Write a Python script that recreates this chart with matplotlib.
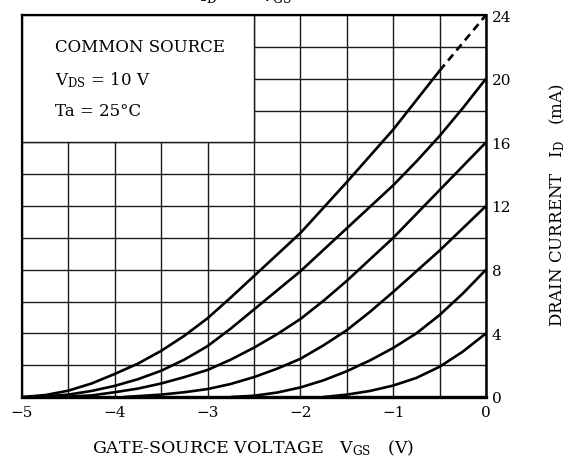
import numpy as np
import matplotlib
matplotlib.use('Agg')
import matplotlib.pyplot as plt
from matplotlib.patches import Rectangle

plt.rcParams['font.family'] = ['DejaVu Serif']

# curves: gate-source voltage (V) / drain current (mA)
vgs_a = [-5.0, -4.75, -4.5, -4.25, -4.0, -3.75, -3.5, -3.25, -3.0, -2.75, -2.5,
         -2.25, -2.0, -1.75, -1.5, -1.25, -1.0, -0.75, -0.5]
id_a = [0.0, 0.12, 0.4, 0.85, 1.45, 2.1, 2.9, 3.85, 4.95, 6.25, 7.6,
        8.95, 10.3, 11.9, 13.5, 15.15, 16.8, 18.65, 20.5]
vgs_a_dash = [-0.5, -0.25, 0.0]
id_a_dash = [20.5, 22.25, 24.0]

vgs_b = [-4.85, -4.5, -4.25, -4.0, -3.75, -3.5, -3.25, -3.0, -2.75, -2.5,
         -2.25, -2.0, -1.75, -1.5, -1.25, -1.0, -0.75, -0.5, -0.25, 0.0]
id_b = [0.0, 0.15, 0.38, 0.7, 1.12, 1.65, 2.35, 3.2, 4.3, 5.5,
        6.7, 7.9, 9.25, 10.6, 11.95, 13.3, 14.8, 16.4, 18.15, 20.0]

vgs_c = [-4.6, -4.25, -4.0, -3.75, -3.5, -3.25, -3.0, -2.75, -2.5,
         -2.25, -2.0, -1.75, -1.5, -1.25, -1.0, -0.75, -0.5, -0.25, 0.0]
id_c = [0.0, 0.1, 0.3, 0.53, 0.85, 1.25, 1.7, 2.35, 3.1,
        3.95, 4.9, 6.05, 7.3, 8.65, 10.0, 11.5, 13.0, 14.5, 16.0]

vgs_d = [-3.9, -3.5, -3.25, -3.0, -2.75, -2.5, -2.25, -2.0, -1.75, -1.5,
         -1.25, -1.0, -0.75, -0.5, -0.25, 0.0]
id_d = [0.0, 0.15, 0.3, 0.5, 0.82, 1.25, 1.78, 2.4, 3.25, 4.2,
        5.35, 6.6, 7.9, 9.2, 10.6, 12.0]

vgs_e = [-2.75, -2.5, -2.25, -2.0, -1.75, -1.5, -1.25, -1.0, -0.75, -0.5, -0.25, 0.0]
id_e = [0.0, 0.08, 0.28, 0.6, 1.05, 1.62, 2.3, 3.08, 4.0, 5.15, 6.5, 8.0]

vgs_f = [-1.75, -1.5, -1.25, -1.0, -0.75, -0.5, -0.25, 0.0]
id_f = [0.0, 0.15, 0.38, 0.72, 1.2, 1.9, 2.85, 4.0]

x_ticks = [-5, -4, -3, -2, -1, 0]
x_labels = ['\u22125', '\u22124', '\u22123', '\u22122', '\u22121', '0']
y_ticks = [0, 4, 8, 12, 16, 20, 24]

fig = plt.figure(figsize=(5.75, 4.64), dpi=100)
ax = fig.add_axes([22/575, 1-398/464, 464/575, 382/464])

ax.set_xlim(-5, 0)
ax.set_ylim(0, 24)
ax.set_xticks(x_ticks)
ax.set_xticklabels(x_labels, fontsize=11)
ax.set_xticks(np.arange(-5, 0.01, 0.5), minor=True)
ax.set_yticks(y_ticks)
ax.set_yticks(np.arange(0, 24.01, 2), minor=True)
ax.yaxis.tick_right()
ax.tick_params(axis='both', which='both', length=0)
ax.tick_params(axis='x', pad=6)
ax.tick_params(axis='y', pad=4, labelsize=11)
ax.set_axisbelow(True)
ax.grid(True, which='both', color='#1a1a1a', linewidth=1.0)

for side in ['left', 'top']:
    ax.spines[side].set_linewidth(1.6)
ax.spines['right'].set_linewidth(1.8)
ax.spines['bottom'].set_linewidth(2.4)

# box with the test conditions hides the grid behind it
ax.add_patch(Rectangle((-5, 16), 2.5, 8, facecolor='white', edgecolor='#1a1a1a',
                       linewidth=1.0, zorder=1))
ax.text(-4.64, 22, 'COMMON SOURCE', fontsize=12, va='center', zorder=3)
ax.text(-4.64, 20, r'$\mathregular{V_{DS}}$ = 10 V', fontsize=12, va='center', zorder=3)
ax.text(-4.64, 18, 'Ta = 25\u00b0C', fontsize=12, va='center', zorder=3)

lw = 1.9
for v, i in [(vgs_a, id_a), (vgs_b, id_b), (vgs_c, id_c),
             (vgs_d, id_d), (vgs_e, id_e), (vgs_f, id_f)]:
    ax.plot(v, i, color='black', linewidth=lw, zorder=2, clip_on=False,
            solid_capstyle='butt', solid_joinstyle='round')
ax.plot(vgs_a_dash, id_a_dash, color='black', linewidth=lw, linestyle=(0, (3, 2)),
        zorder=2, clip_on=False)

fig.text(245/575, 1-1/464, r'$\mathregular{I_D\ \ -\ \ V_{GS}}$', fontsize=12.5,
         ha='center', va='baseline')
fig.text(253/575, 1-448/464, r'GATE-SOURCE VOLTAGE   $\mathregular{V_{GS}}$   (V)',
         fontsize=12.5, ha='center', va='center')
fig.text(557/575, 1-205/464, r'DRAIN CURRENT   $\mathregular{I_D}$   (mA)',
         fontsize=12, ha='center', va='center', rotation=90)

fig.savefig('out.png', dpi=100)
